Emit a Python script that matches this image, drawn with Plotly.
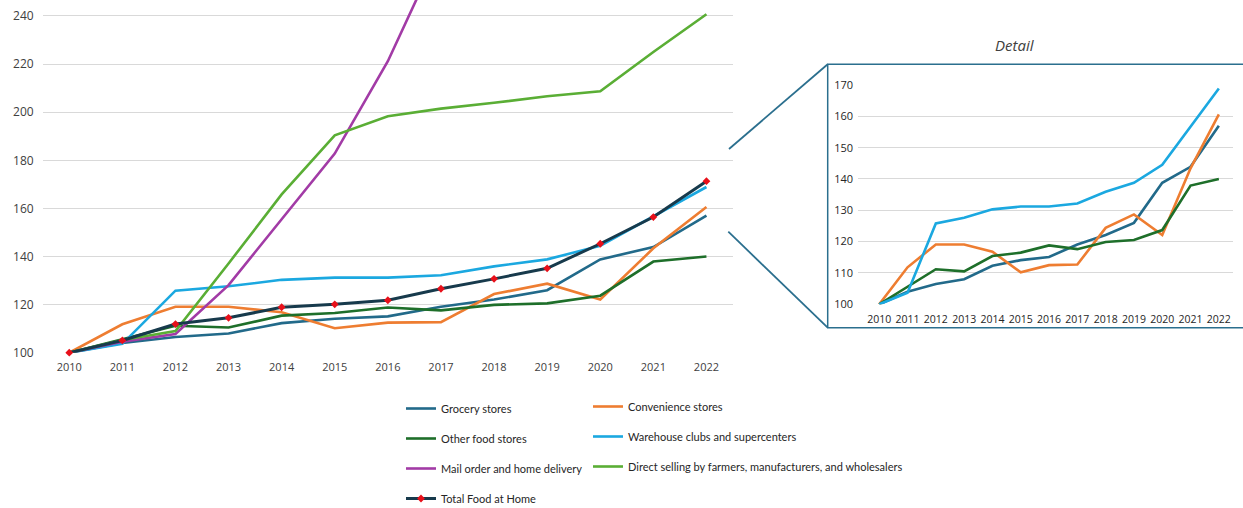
import plotly.graph_objects as go

years = [str(y) for y in range(2010, 2023)]

grocery = [100, 104.0, 106.5, 108.0, 112.3, 114.1, 115.1, 119.1, 122.1, 126.0, 138.8, 143.9, 157.0]
convenience = [100, 111.8, 119.1, 119.1, 116.8, 110.2, 112.5, 112.7, 124.4, 128.7, 122.1, 143.4, 160.6]
other_food = [100, 105.6, 111.2, 110.5, 115.4, 116.5, 118.8, 117.6, 119.9, 120.5, 123.7, 137.9, 140.0]
warehouse = [100, 103.7, 125.8, 127.6, 130.3, 131.2, 131.2, 132.2, 135.9, 138.8, 144.5, 156.7, 168.9]
mail_order = [100, 104.6, 107.8, 128.1, 155.5, 182.8, 221.2, 268.8, 305.0, 340.0, 480.0, 520.0, 560.0]
direct_selling = [100, 105.3, 109.0, 137.1, 165.8, 190.4, 198.3, 201.5, 203.9, 206.6, 208.7, 225.0, 240.7]
total_home = [100, 105.1, 111.9, 114.5, 118.9, 120.1, 121.8, 126.6, 130.7, 135.1, 145.3, 156.4, 171.3]

main_ticks = [100, 120, 140, 160, 180, 200, 220, 240]
detail_ticks = [100, 110, 120, 130, 140, 150, 160, 170]

C_GROC = "#226A8A"
C_CONV = "#EE7D31"
C_OTHER = "#1E6F2A"
C_WARE = "#1BA8E0"
C_MAIL = "#A23BA6"
C_DIRECT = "#5AAE35"
C_TOTAL = "#173A4C"
C_BOX = "#2B6F8E"

W, H = 1243, 508

def px_x(p):
    return p / W

def px_y(p):
    return 1 - p / H

fig = go.Figure()

series = [
    ("Grocery stores", grocery, C_GROC, "legend"),
    ("Convenience stores", convenience, C_CONV, "legend2"),
    ("Other food stores", other_food, C_OTHER, "legend"),
    ("Warehouse clubs and supercenters", warehouse, C_WARE, "legend2"),
    ("Mail order and home delivery", mail_order, C_MAIL, "legend"),
    ("Direct selling by farmers, manufacturers, and wholesalers", direct_selling, C_DIRECT, "legend2"),
]

for i, (name, vals, col, lg) in enumerate(series):
    fig.add_trace(go.Scatter(
        x=years, y=vals, name=name, mode="lines",
        line=dict(color=col, width=2.6),
        legend=lg, legendgroup=name, xaxis="x", yaxis="y",
    ))

fig.add_trace(go.Scatter(
    x=years, y=total_home, name="Total Food at Home", mode="lines+markers",
    line=dict(color=C_TOTAL, width=3),
    marker=dict(symbol="diamond", color="#E8101A", size=6, line=dict(width=0)),
    legend="legend", legendgroup="Total Food at Home", xaxis="x", yaxis="y",
    cliponaxis=False,
))

# detail chart
for name, vals, col in [
    ("Grocery stores", grocery, C_GROC),
    ("Convenience stores", convenience, C_CONV),
    ("Other food stores", other_food, C_OTHER),
    ("Warehouse clubs and supercenters", warehouse, C_WARE),
]:
    fig.add_trace(go.Scatter(
        x=years, y=vals, name=name, mode="lines",
        line=dict(color=col, width=2.6), showlegend=False,
        xaxis="x2", yaxis="y2",
    ))

tick_font = dict(family="Open Sans, Arial, sans-serif", size=11, color="#404040")
grid = "#D9D9D9"
leg_font = dict(family="Lato, Arial, sans-serif", size=11, color="#262626")

fig.update_layout(
    width=W, height=H,
    margin=dict(l=0, r=0, t=0, b=0, autoexpand=False),
    paper_bgcolor="white", plot_bgcolor="white",
    xaxis=dict(domain=[px_x(42.7), px_x(733)], type="category",
               range=[-0.5, 12.5], showgrid=False, zeroline=False,
               showline=False, ticks="", tickfont=tick_font,
               ticklabelstandoff=6),
    yaxis=dict(domain=[px_y(352.7), 1.0], range=[100, 246.65],
               tickvals=main_ticks, showgrid=True, gridcolor=grid, gridwidth=1,
               zeroline=False, showline=False, ticks="",
               tickfont=dict(family="Open Sans, Arial, sans-serif", size=12, color="#404040"),
               ticklabelstandoff=8),
    xaxis2=dict(domain=[px_x(858), px_x(1233)], type="category",
                range=[-0.75, 12.5], anchor="y2", showgrid=False, zeroline=False,
                showline=False, ticks="", ticklabelstandoff=7,
                tickfont=dict(family="Open Sans, Arial, sans-serif", size=10.5, color="#262626")),
    yaxis2=dict(domain=[px_y(304.3), px_y(85)], range=[100, 170], anchor="x2",
                tickvals=detail_ticks, showgrid=True, gridcolor=grid, gridwidth=1,
                zeroline=False, showline=False, ticks="",
                tickfont=dict(family="Open Sans, Arial, sans-serif", size=11, color="#262626"),
                ticklabelstandoff=4),
    legend=dict(x=px_x(401), y=px_y(394), xanchor="left", yanchor="top",
                orientation="v", itemwidth=30, tracegroupgap=11,
                traceorder="grouped", font=leg_font,
                bgcolor="rgba(0,0,0,0)"),
    legend2=dict(x=px_x(588), y=px_y(392), xanchor="left", yanchor="top",
                 orientation="v", itemwidth=30, tracegroupgap=11,
                 traceorder="grouped", font=leg_font,
                 bgcolor="rgba(0,0,0,0)"),
    shapes=[
        dict(type="rect", xref="paper", yref="paper",
             x0=px_x(827.7), x1=px_x(1260), y0=px_y(327.7), y1=px_y(64.3),
             line=dict(color=C_BOX, width=1.5), fillcolor="rgba(0,0,0,0)"),
        dict(type="line", xref="paper", yref="paper",
             x0=px_x(729), y0=px_y(149), x1=px_x(827.7), y1=px_y(64.3),
             line=dict(color=C_BOX, width=1.8)),
        dict(type="line", xref="paper", yref="paper",
             x0=px_x(728.3), y0=px_y(231.7), x1=px_x(827.7), y1=px_y(327.7),
             line=dict(color=C_BOX, width=1.8)),
    ],
    annotations=[
        dict(text="<i>Detail</i>", xref="paper", yref="paper",
             x=px_x(1015), y=px_y(45), xanchor="center", yanchor="middle",
             showarrow=False,
             font=dict(family="Open Sans, Arial, sans-serif", size=15, color="#404040")),
    ],
)

fig.write_html("out.html")
